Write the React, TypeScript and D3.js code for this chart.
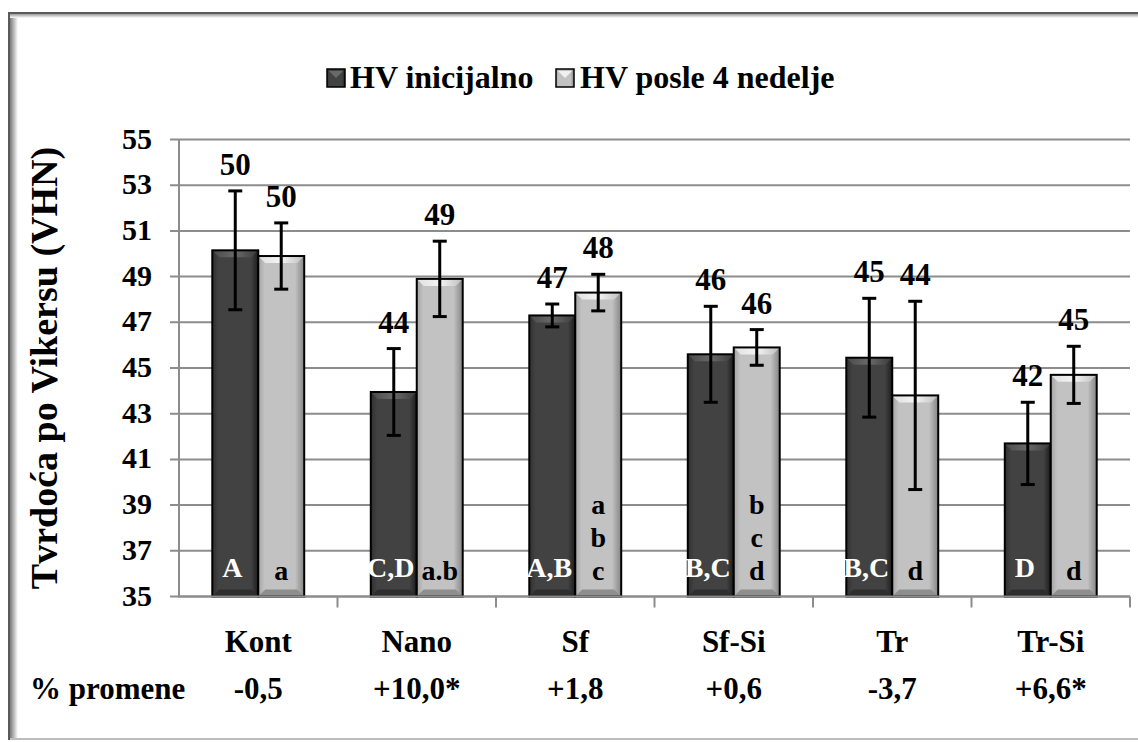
import React from 'react';
import * as d3 from 'd3';

const categories = ['Kont', 'Nano', 'Sf', 'Sf-Si', 'Tr', 'Tr-Si'];
const initial = [50.15, 43.95, 47.3, 45.6, 45.45, 41.7];
const initialSd = [2.6, 1.9, 0.5, 2.1, 2.6, 1.8];
const after = [49.9, 48.9, 48.3, 45.9, 43.8, 44.7];
const afterSd = [1.45, 1.65, 0.8, 0.78, 4.12, 1.25];
const initialLabels = ['50', '44', '47', '46', '45', '42'];
const afterLabels = ['50', '49', '48', '46', '44', '45'];
const initialGroups = ['A', 'C,D', 'A,B', 'B,C', 'B,C', 'D'];
const afterGroups = [['a'], ['a.b'], ['a', 'b', 'c'], ['b', 'c', 'd'], ['d'], ['d']];
const changes = ['-0,5', '+10,0*', '+1,8', '+0,6', '-3,7', '+6,6*'];
const yTicks = d3.range(35, 56, 2);

const FONT = "'Liberation Serif', 'Times New Roman', serif";

const W = 1138;
const H = 742;
const left = 179;
const right = 1130;
const top = 139.5;
const bottom = 596.5;

function Bar({ x0, y0, w, h, kind }: { x0: number; y0: number; w: number; h: number; kind: string }) {
  const b = 7;
  const isDark = kind === 'dark';
  return (
    <g>
      <rect x={x0} y={y0} width={w} height={h} fill={`url(#body-${kind})`} />
      <polygon
        points={`${x0},${y0} ${x0 + w},${y0} ${x0 + w - b},${y0 + b} ${x0 + b},${y0 + b}`}
        fill={`url(#top-${kind})`}
      />
      <polygon
        points={`${x0},${y0 + h} ${x0 + w},${y0 + h} ${x0 + w - b},${y0 + h - b} ${x0 + b},${y0 + h - b}`}
        fill={isDark ? '#2e2e2e' : '#8e8e8e'}
      />
      <rect x={x0} y={y0} width={w} height={h} fill="none" stroke="#000" strokeWidth={2} />
    </g>
  );
}

export default function App() {
  const x = d3.scaleBand<string>().domain(categories).range([left, right]).paddingInner(0.42).paddingOuter(0.21);
  const sub = d3.scaleBand<string>().domain(['dark', 'light']).range([0, x.bandwidth()]);
  const y = d3.scaleLinear().domain([35, 55]).range([bottom, top]);

  const series = [
    { kind: 'dark', values: initial, sd: initialSd, labels: initialLabels },
    { kind: 'light', values: after, sd: afterSd, labels: afterLabels },
  ];

  return (
    <svg width={W} height={H} style={{ position: 'absolute', left: 0, top: 0, background: '#fff', fontFamily: FONT }}>
      <defs>
        <linearGradient id="body-dark" x1="0" x2="1" y1="0" y2="0">
          <stop offset="0" stopColor="#303030" />
          <stop offset="0.14" stopColor="#424242" />
          <stop offset="0.84" stopColor="#424242" />
          <stop offset="1" stopColor="#1c1c1c" />
        </linearGradient>
        <linearGradient id="body-light" x1="0" x2="1" y1="0" y2="0">
          <stop offset="0" stopColor="#a4a4a4" />
          <stop offset="0.14" stopColor="#c2c2c2" />
          <stop offset="0.8" stopColor="#c2c2c2" />
          <stop offset="1" stopColor="#858585" />
        </linearGradient>
        <linearGradient id="top-dark" x1="0" x2="1" y1="0" y2="0">
          <stop offset="0" stopColor="#4a4a4a" />
          <stop offset="0.5" stopColor="#6a6a6a" />
          <stop offset="1" stopColor="#3a3a3a" />
        </linearGradient>
        <linearGradient id="top-light" x1="0" x2="1" y1="0" y2="0">
          <stop offset="0" stopColor="#e0e0e0" />
          <stop offset="0.5" stopColor="#f4f4f4" />
          <stop offset="1" stopColor="#bdbdbd" />
        </linearGradient>
        <linearGradient id="edge-left" x1="0" x2="1" y1="0" y2="0">
          <stop offset="0" stopColor="#7a7a7a" />
          <stop offset="1" stopColor="#ffffff" />
        </linearGradient>
        <linearGradient id="edge-top" x1="0" x2="0" y1="0" y2="1">
          <stop offset="0" stopColor="#9a9a9a" />
          <stop offset="1" stopColor="#ffffff" />
        </linearGradient>
      </defs>

      {/* outer frame with soft inner shadow */}
      <rect x={9} y={13} width={W} height={726} fill="#fff" stroke="#5a5a5a" strokeWidth={2} />
      <rect x={10} y={14} width={8} height={724} fill="url(#edge-left)" />
      <rect x={10} y={14} width={W} height={4} fill="url(#edge-top)" />
      <line x1={10} x2={W} y1={739} y2={739} stroke="#bdbdbd" strokeWidth={2} />

      {/* legend */}
      <g fontWeight="bold" fontSize={32}>
        <rect x={327} y={69} width={18} height={18} fill="url(#body-dark)" stroke="#000" strokeWidth={1.5} />
        <polygon points="329,71 343,71 336,78" fill="#6a6a6a" />
        <text x={350} y={88}>HV inicijalno</text>
        <rect x={556} y={69} width={18} height={18} fill="url(#body-light)" stroke="#000" strokeWidth={1.5} />
        <polygon points="558,71 572,71 565,78" fill="#f0f0f0" />
        <text x={580} y={88}>HV posle 4 nedelje</text>
      </g>

      {/* gridlines */}
      {yTicks.map((t) => (
        <g key={t}>
          <line x1={left - 9} x2={right} y1={y(t)} y2={y(t)} stroke="#8c8c8c" strokeWidth={2} />
          <text x={152} y={y(t) + 9} textAnchor="end" fontWeight="bold" fontSize={30}>
            {t}
          </text>
        </g>
      ))}
      <line x1={left} x2={left} y1={top} y2={bottom + 1} stroke="#8c8c8c" strokeWidth={2} />
      {categories.map((c, i) => (
        <line key={c} x1={left + (i + 1) * x.step()} x2={left + (i + 1) * x.step()} y1={bottom} y2={bottom + 11} stroke="#8c8c8c" strokeWidth={2} />
      ))}

      {/* bars */}
      {categories.map((c, i) => (
        <g key={c}>
          {series.map((s) => {
            const x0 = (x(c) as number) + (sub(s.kind) as number);
            const w = sub.bandwidth();
            return (
              <Bar key={s.kind} x0={x0} y0={y(s.values[i])} w={w} h={bottom - y(s.values[i])} kind={s.kind} />
            );
          })}
        </g>
      ))}

      {/* bar-bottom axis line */}
      <line x1={left} x2={right} y1={bottom} y2={bottom} stroke="#8c8c8c" strokeWidth={2} />

      {/* group letters */}
      {categories.map((c, i) => {
        const cxD = (x(c) as number) + (sub('dark') as number) + sub.bandwidth() / 2;
        const cxL = (x(c) as number) + (sub('light') as number) + sub.bandwidth() / 2;
        const g = afterGroups[i];
        return (
          <g key={c} fontWeight="bold" fontSize={28}>
            <text x={cxD - 3} y={577} textAnchor="middle" fill="#fff">
              {initialGroups[i]}
            </text>
            {g.map((l, k) => (
              <text key={k} x={cxL} y={580 - (g.length - 1 - k) * 33} textAnchor="middle" fill="#000">
                {l}
              </text>
            ))}
          </g>
        );
      })}

      {/* error bars and value labels */}
      {categories.map((c, i) => (
        <g key={c}>
          {series.map((s) => {
            const cx = (x(c) as number) + (sub(s.kind) as number) + sub.bandwidth() / 2;
            const yt = y(s.values[i] + s.sd[i]);
            const yb = y(s.values[i] - s.sd[i]);
            return (
              <g key={s.kind}>
                <line x1={cx} x2={cx} y1={yt} y2={yb} stroke="#000" strokeWidth={3} />
                <line x1={cx - 7} x2={cx + 7} y1={yt} y2={yt} stroke="#000" strokeWidth={3} />
                <line x1={cx - 7} x2={cx + 7} y1={yb} y2={yb} stroke="#000" strokeWidth={3} />
                <text x={cx} y={yt - 16} textAnchor="middle" fontWeight="bold" fontSize={31}>
                  {s.labels[i]}
                </text>
              </g>
            );
          })}
        </g>
      ))}

      {/* category labels */}
      {categories.map((c, i) => (
        <g key={c} fontWeight="bold" fontSize={31}>
          <text x={(x(c) as number) + x.bandwidth() / 2} y={652} textAnchor="middle">
            {c}
          </text>
          <text x={(x(c) as number) + x.bandwidth() / 2} y={699} textAnchor="middle">
            {changes[i]}
          </text>
        </g>
      ))}
      <text x={30} y={699} fontWeight="bold" fontSize={31}>
        % promene
      </text>

      {/* y title */}
      <text
        transform={`translate(57, ${(top + bottom) / 2}) rotate(-90)`}
        textAnchor="middle"
        fontWeight="bold"
        fontSize={38}
      >
        Tvrdoća po Vikersu (VHN)
      </text>
    </svg>
  );
}
